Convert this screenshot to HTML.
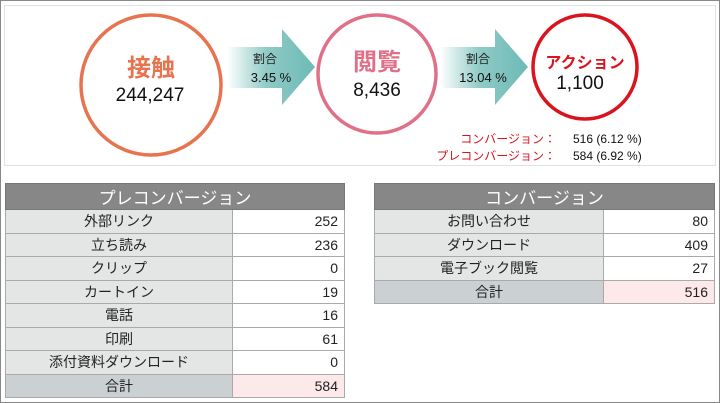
<!DOCTYPE html>
<html><head><meta charset="utf-8"><style>
*{margin:0;padding:0;box-sizing:border-box}
body{width:720px;height:403px;overflow:hidden;background:#fff;font-family:"Liberation Sans","Noto Sans CJK JP",sans-serif;position:relative}
#frame{position:absolute;left:0;top:0;width:720px;height:403px;border:1px solid #888}
#top{position:absolute;left:4px;top:5px;width:712px;height:161px;border:1px solid #dde3e6}
table{position:absolute;border-collapse:collapse;font-size:14px;color:#222}
th{background:#878787;color:#fff;font-weight:normal;font-size:17px;height:24px;border:1px solid #777}
td{height:23.5px;border:1px solid #aaa;padding:0 6px}
td.l{background:#e4e5e5;text-align:center}
td.v{background:#fff;text-align:right}
tr.tot td.l{background:#cbd0d3}
tr.tot td.v{background:#fde8ea}
</style></head><body>
<div id="frame"></div>
<div id="top"></div>
<svg width="720" height="170" style="position:absolute;left:0;top:0">
<defs><linearGradient id="g" x1="0" x2="1"><stop offset="0" stop-color="#fff"/><stop offset="0.45" stop-color="#8fcac6"/><stop offset="1" stop-color="#6dbab6"/></linearGradient></defs>
<polygon points="227,47 282,47 282,29 315,67 282,105 282,88 227,88" fill="url(#g)"/>
<polygon points="440,47 495,47 495,29 528,67 495,105 495,88 440,88" fill="url(#g)"/>
<circle cx="151" cy="85" r="70" fill="#fff" stroke="#e8734f" stroke-width="3.5"/>
<circle cx="377" cy="74" r="59" fill="#fff" stroke="#e07088" stroke-width="3.5"/>
<circle cx="585" cy="67" r="52" fill="#fff" stroke="#d9141e" stroke-width="3.5"/>
<text x="151" y="76" text-anchor="middle" font-size="24" font-weight="bold" fill="#e8734f">接触</text>
<text x="150" y="101" text-anchor="middle" font-size="19" fill="#111">244,247</text>
<text x="377" y="70" text-anchor="middle" font-size="24" font-weight="bold" fill="#e07088">閲覧</text>
<text x="377" y="96" text-anchor="middle" font-size="19" fill="#111">8,436</text>
<text x="585" y="68" text-anchor="middle" font-size="16" font-weight="bold" fill="#d9141e">アクション</text>
<text x="580" y="89" text-anchor="middle" font-size="19" fill="#111">1,100</text>
<text x="265" y="63" text-anchor="middle" font-size="12" fill="#222">割合</text>
<text x="271" y="82" text-anchor="middle" font-size="13" fill="#111">3.45 %</text>
<text x="478" y="63" text-anchor="middle" font-size="12" fill="#222">割合</text>
<text x="483" y="82" text-anchor="middle" font-size="13" fill="#111">13.04 %</text>
<text x="556" y="143" text-anchor="end" font-size="12" fill="#d9141e">コンバージョン：</text>
<text x="573" y="143" font-size="12" fill="#111">516 (6.12 %)</text>
<text x="556" y="160" text-anchor="end" font-size="12" fill="#d9141e">プレコンバージョン：</text>
<text x="573" y="160" font-size="12" fill="#111">584 (6.92 %)</text>
</svg>
<table style="left:5px;top:183px;width:340px">
<tr><th colspan="2">プレコンバージョン</th></tr>
<tr><td class="l" style="width:227px">外部リンク</td><td class="v">252</td></tr>
<tr><td class="l">立ち読み</td><td class="v">236</td></tr>
<tr><td class="l">クリップ</td><td class="v">0</td></tr>
<tr><td class="l">カートイン</td><td class="v">19</td></tr>
<tr><td class="l">電話</td><td class="v">16</td></tr>
<tr><td class="l">印刷</td><td class="v">61</td></tr>
<tr><td class="l">添付資料ダウンロード</td><td class="v">0</td></tr>
<tr class="tot"><td class="l">合計</td><td class="v">584</td></tr>
</table>
<table style="left:374px;top:183px;width:341px">
<tr><th colspan="2">コンバージョン</th></tr>
<tr><td class="l" style="width:229px">お問い合わせ</td><td class="v">80</td></tr>
<tr><td class="l">ダウンロード</td><td class="v">409</td></tr>
<tr><td class="l">電子ブック閲覧</td><td class="v">27</td></tr>
<tr class="tot"><td class="l">合計</td><td class="v">516</td></tr>
</table>
</body></html>
